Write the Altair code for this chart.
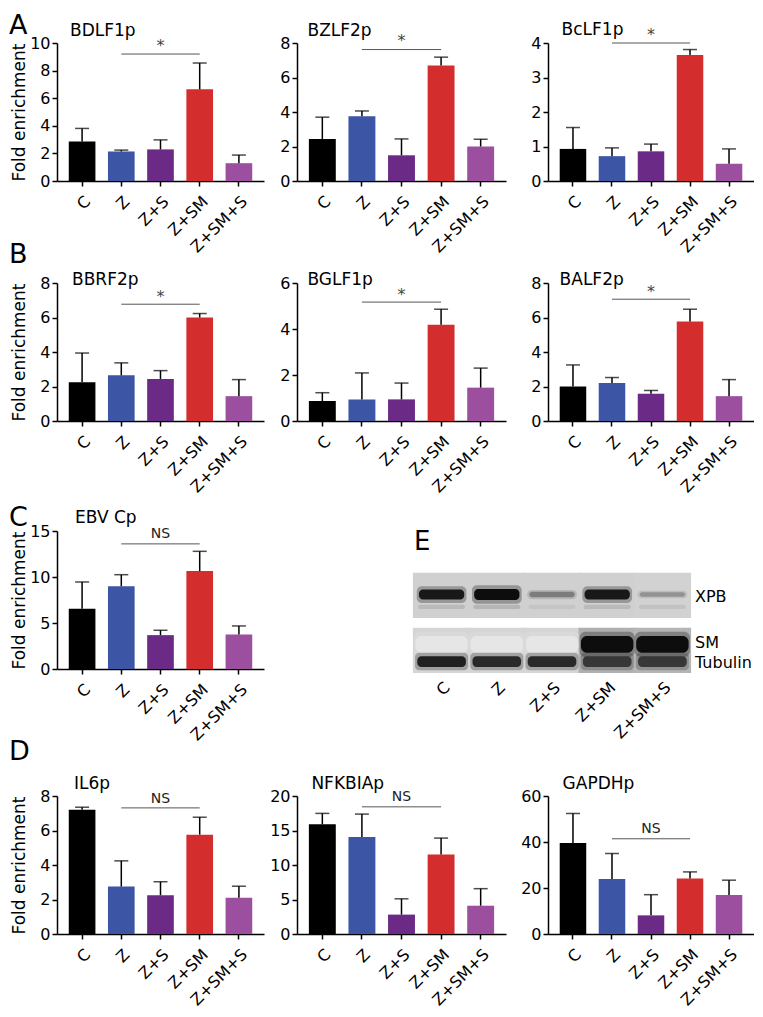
import altair as alt
import pandas as pd

# ---------------- data ----------------
CATS = ["C", "Z", "Z+S", "Z+SM", "Z+SM+S"]
BAR_COLORS = ["#000000", "#3c55a5", "#6a2a85", "#d42d2e", "#9b4f9e"]

# Panel A
BDLF1P_MEAN = [2.86, 2.14, 2.29, 6.64, 1.29]
BDLF1P_UP = [3.81, 2.24, 2.98, 8.55, 1.88]
BZLF2P_MEAN = [2.44, 3.75, 1.49, 6.70, 2.00]
BZLF2P_UP = [3.70, 4.06, 2.44, 7.18, 2.42]
BCLF1P_MEAN = [0.93, 0.72, 0.86, 3.65, 0.50]
BCLF1P_UP = [1.55, 0.96, 1.07, 3.81, 0.93]
# Panel B
BBRF2P_MEAN = [2.25, 2.65, 2.44, 6.00, 1.44]
BBRF2P_UP = [3.94, 3.37, 2.92, 6.23, 2.40]
BGLF1P_MEAN = [0.87, 0.94, 0.94, 4.19, 1.45]
BGLF1P_UP = [1.23, 2.09, 1.65, 4.86, 2.30]
BALF2P_MEAN = [2.00, 2.21, 1.58, 5.77, 1.44]
BALF2P_UP = [3.25, 2.52, 1.77, 6.48, 2.40]
# Panel C
EBVCP_MEAN = [6.54, 9.00, 3.68, 10.64, 3.75]
EBVCP_UP = [9.46, 10.25, 4.21, 12.79, 4.68]
# Panel D
IL6P_MEAN = [7.20, 2.75, 2.25, 5.76, 2.10]
IL6P_UP = [7.35, 4.24, 3.03, 6.77, 2.77]
NFKBIAP_MEAN = [15.9, 14.05, 2.81, 11.52, 4.10]
NFKBIAP_UP = [17.48, 17.38, 5.10, 13.90, 6.57]
GAPDHP_MEAN = [39.6, 23.9, 8.1, 24.1, 17.0]
GAPDHP_UP = [52.4, 35.0, 17.1, 27.0, 23.4]

# y-axis ticks
TICKS_10 = [0, 2, 4, 6, 8, 10]
TICKS_8 = [0, 2, 4, 6, 8]
TICKS_4 = [0, 1, 2, 3, 4]
TICKS_6 = [0, 2, 4, 6]
TICKS_15 = [0, 5, 10, 15]
TICKS_20 = [0, 5, 10, 15, 20]
TICKS_60 = [0, 20, 40, 60]

# significance bars: (line value, label, label value)
SIG_BDLF1P = (9.2, "*", 10.05)
SIG_BZLF2P = (7.62, "*", 8.34)
SIG_BCLF1P = (4.0, "*", 4.35)
SIG_BBRF2P = (6.77, "*", 7.44)
SIG_BGLF1P = (5.17, "*", 5.65)
SIG_BALF2P = (7.06, "*", 7.69)
SIG_EBVCP = (13.6, "NS", 14.68)
SIG_IL6P = (7.31, "NS", 7.81)
SIG_NFKBIAP = (18.43, "NS", 19.86)
SIG_GAPDHP = (41.4, "NS", 45.7)

# Western blot (panel E): relative signal per lane
XPB_SIGNAL = [0.95, 1.00, 0.45, 0.95, 0.35]
XPB_WIDTH = [1.0, 1.1, 0.55, 1.0, 0.45]
XPB_FAINT_SIGNAL = [0.22, 0.25, 0.15, 0.22, 0.18]
SM_SIGNAL = [0.0, 0.0, 0.0, 1.0, 1.0]
TUBULIN_SIGNAL = [0.90, 0.85, 0.85, 0.78, 0.78]
UPPER_MEMBRANE = [0.09, 0.09, 0.09, 0.09, 0.08]
LOWER_MEMBRANE = [0.07, 0.07, 0.07, 0.22, 0.20]
BLOT_LABELS = ["XPB", "SM", "Tubulin"]
# blot geometry in blot units (0 = top of panel, 100 = bottom)
UPPER_SPAN = (33.1, 63.3)
LOWER_SPAN = (69.9, 100.0)
XPB_BAND = (47.7, 6.6)
XPB_FAINT_BAND = (55.9, 2.7)
SM_BAND = (80.9, 11.3)
TUB_BAND = (92.4, 7.3)
BLOT_LABEL_POS = [49.1, 79.9, 93.0]

# ---------------- layout ----------------
PLOT_H = 138
COL_RANGE = [207, 209, 206]
COL_WIDTH = [207, 218, 206]
FONT = "DejaVu Sans"
ONE = pd.DataFrame({"k": [0]})


def panel(title, mean, up, ymax, ticks, sig, col, tdx, tdy,
          letter=None, ldy=0, top_pad=0):
    h = PLOT_H + top_pad
    df = pd.DataFrame({"cat": CATS, "mean": mean, "up": up})
    xs = alt.Scale(domain=CATS, range=[0, COL_RANGE[col]],
                   paddingInner=0.32, paddingOuter=0.30)
    ys = alt.Scale(domain=[0, ymax], nice=False, range=[h, top_pad])
    xaxis = alt.Axis(title=None, labelAngle=-45, labelAlign="right",
                     labelBaseline="top", labelPadding=7, labelOverlap=False)
    if col == 0:
        yaxis = alt.Axis(values=ticks, title="Fold enrichment", titleX=-32.5,
                         titleY=top_pad + PLOT_H / 2, titleAngle=-90,
                         titleAlign="center", titleBaseline="alphabetic",
                         titleFontSize=17, labelPadding=2)
    else:
        yaxis = alt.Axis(values=ticks, title=None, labelPadding=2)

    def X(f):
        return alt.X(f, scale=xs, axis=xaxis, sort=CATS)

    def Y(f):
        return alt.Y(f, scale=ys, axis=yaxis)

    bars = alt.Chart(df).mark_bar().encode(
        x=X("cat:N"), y=Y("mean:Q"),
        color=alt.Color("cat:N", scale=alt.Scale(domain=CATS, range=BAR_COLORS),
                        legend=None))
    err = alt.Chart(df).mark_rule(color="black", strokeWidth=1.5).encode(
        x=X("cat:N"), y=Y("mean:Q"), y2="up:Q")
    cap = alt.Chart(df).mark_tick(color="black", thickness=1.5, size=14).encode(
        x=X("cat:N"), y=Y("up:Q"))
    sdf = pd.DataFrame({"a": ["Z"], "b": ["Z+SM"], "v": [sig[0]]})
    sline = alt.Chart(sdf).mark_rule(color="#555555", strokeWidth=1).encode(
        x=X("a:N"), x2="b:N", y=Y("v:Q"))
    tdf = pd.DataFrame({"cat": ["Z+S"], "v": [sig[2]], "t": [sig[1]]})
    if sig[1] == "*":
        smark = alt.Chart(tdf).mark_text(fontSize=16, color="#444444",
                                         baseline="alphabetic", dy=9)
    else:
        smark = alt.Chart(tdf).mark_text(fontSize=14, color="#222222",
                                         baseline="middle")
    stext = smark.encode(x=X("cat:N"), y=Y("v:Q"), text="t:N")
    ttl = alt.Chart(ONE).mark_text(align="left", baseline="alphabetic",
                                   fontSize=17, color="black").encode(
        x=alt.value(tdx), y=alt.value(tdy), text=alt.value(title))
    layers = [bars, err, cap, sline, stext, ttl]
    if letter:
        layers.append(alt.Chart(ONE).mark_text(
            align="left", baseline="alphabetic", fontSize=27, color="black").encode(
            x=alt.value(-48), y=alt.value(ldy), text=alt.value(letter)))
    return alt.layer(*layers).properties(width=COL_WIDTH[col], height=h)


def blot_panel():
    h = 150
    xs = alt.Scale(domain=CATS, range=[117, 393], paddingInner=0, paddingOuter=0)
    ys = alt.Scale(domain=[0, 100], reverse=True, nice=False)
    xaxis = alt.Axis(title=None, labelAngle=-45, labelAlign="right",
                     labelBaseline="top", labelPadding=6, domain=False,
                     ticks=False, labelOverlap=False)
    cs = alt.Scale(domain=[0, 1], range=["#e6e6e6", "#0d0d0d"])

    def rows(levels, center, thick, widths=None):
        widths = widths or [1.0] * 5
        return pd.DataFrame({"lane": CATS, "lvl": levels,
                             "y0": [center - thick * w / 2 for w in widths],
                             "y1": [center + thick * w / 2 for w in widths]})

    def mem(levels, span):
        return pd.DataFrame({"lane": CATS, "lvl": levels,
                             "y0": [span[0]] * 5, "y1": [span[1]] * 5})

    def bar(df, band, **kw):
        return alt.Chart(df).mark_bar(width=alt.RelativeBandSize(band), **kw).encode(
            x=alt.X("lane:N", scale=xs, axis=xaxis, sort=CATS),
            y=alt.Y("y0:Q", scale=ys, axis=None), y2="y1:Q",
            color=alt.Color("lvl:Q", scale=cs, legend=None))

    layers = [
        bar(mem(UPPER_MEMBRANE, UPPER_SPAN), 1.04),
        bar(mem(LOWER_MEMBRANE, LOWER_SPAN), 1.04),
        bar(rows(XPB_FAINT_SIGNAL, *XPB_FAINT_BAND), 0.85, cornerRadius=2,
            opacity=0.7),
        bar(rows(XPB_SIGNAL, XPB_BAND[0], XPB_BAND[1] * 1.7, XPB_WIDTH), 0.9,
            cornerRadius=5, opacity=0.3),
        bar(rows(XPB_SIGNAL, XPB_BAND[0], XPB_BAND[1], XPB_WIDTH), 0.82,
            cornerRadius=4),
        bar(rows(SM_SIGNAL, SM_BAND[0], SM_BAND[1] * 1.5), 1.0,
            cornerRadius=6, opacity=0.3),
        bar(rows(SM_SIGNAL, *SM_BAND), 0.95, cornerRadius=6),
        bar(rows(TUBULIN_SIGNAL, TUB_BAND[0], TUB_BAND[1] * 1.6), 0.96,
            cornerRadius=4, opacity=0.3),
        bar(rows(TUBULIN_SIGNAL, *TUB_BAND), 0.88, cornerRadius=4),
    ]
    ldf = pd.DataFrame({"name": BLOT_LABELS, "pos": BLOT_LABEL_POS})
    layers.append(alt.Chart(ldf).mark_text(align="left", baseline="middle",
                                           fontSize=16, color="black").encode(
        x=alt.value(398), y=alt.Y("pos:Q", scale=ys, axis=None), text="name:N"))
    layers.append(alt.Chart(ONE).mark_text(align="left", baseline="alphabetic",
                                           fontSize=26, color="black").encode(
        x=alt.value(117), y=alt.value(27.3), text=alt.value("E")))
    return alt.layer(*layers).properties(width=COL_WIDTH[1], height=h)


blank = alt.Chart(ONE).mark_point(opacity=0).encode(
    x=alt.X("k:Q", axis=None), y=alt.Y("k:Q", axis=None)
).properties(width=10, height=171)

cells = [
    panel("BDLF1p", BDLF1P_MEAN, BDLF1P_UP, 10, TICKS_10, SIG_BDLF1P, 0, 13, -7, "A", -8.9),
    panel("BZLF2p", BZLF2P_MEAN, BZLF2P_UP, 8, TICKS_8, SIG_BZLF2P, 1, 10.5, -7),
    panel("BcLF1p", BCLF1P_MEAN, BCLF1P_UP, 4, TICKS_4, SIG_BCLF1P, 2, 13.6, -8),
    panel("BBRF2p", BBRF2P_MEAN, BBRF2P_UP, 8, TICKS_8, SIG_BBRF2P, 0, 15, 2, "B", -20.3),
    panel("BGLF1p", BGLF1P_MEAN, BGLF1P_UP, 6, TICKS_6, SIG_BGLF1P, 1, 10.5, 2),
    panel("BALF2p", BALF2P_MEAN, BALF2P_UP, 8, TICKS_8, SIG_BALF2P, 2, 11.6, 2),
    panel("EBV Cp", EBVCP_MEAN, EBVCP_UP, 15, TICKS_15, SIG_EBVCP, 0, 18, 0, "C", 2.7, top_pad=8),
    blot_panel(),
    blank,
    panel("IL6p", IL6P_MEAN, IL6P_UP, 8, TICKS_8, SIG_IL6P, 0, 17, -7, "D", -36.4),
    panel("NFKBIAp", NFKBIAP_MEAN, NFKBIAP_UP, 20, TICKS_20, SIG_NFKBIAP, 1, 14.4, -7),
    panel("GAPDHp", GAPDHP_MEAN, GAPDHP_UP, 60, TICKS_60, SIG_GAPDHP, 2, 14.6, -7),
]

chart = alt.concat(*cells, columns=3, spacing={"row": 102, "column": 33},
                   bounds="flush").properties(
    padding={"top": 4, "left": 1, "right": 0, "bottom": 0}
).configure(
    font=FONT
).configure_view(stroke=None).configure_axis(
    labelFont=FONT, labelFontSize=16, labelColor="black",
    titleFont=FONT, titleColor="black", titleFontWeight="normal",
    domainColor="black", domainWidth=1.5, tickColor="black", tickWidth=1.5,
    tickSize=5, grid=False
).configure_text(font=FONT)

chart.save("out.html", embed_options={"renderer": "svg", "actions": False})
